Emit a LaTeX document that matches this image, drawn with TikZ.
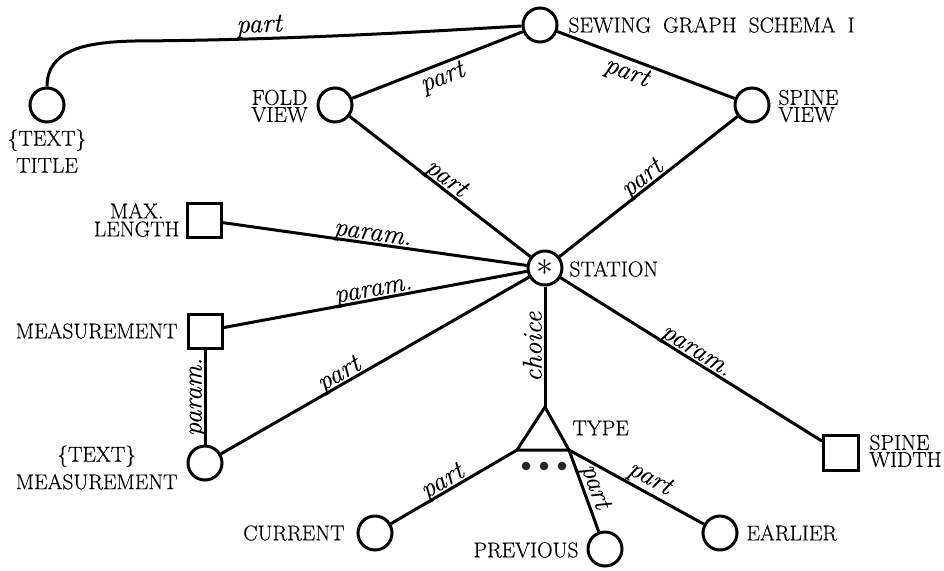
\documentclass[tikz,border=0pt]{standalone}
\usepackage{graphicx}
\usepackage{fontspec}
\newfontfamily\capfont{lmroman17-regular.otf}[FakeBold=0.35]
\newfontfamily\labfont{lmroman12-italic.otf}[FakeBold=0.25]
\begin{document}
\begin{tikzpicture}[x=1pt,y=-1pt,
  line width=3pt,
  nd/.style={circle, draw, line width=3pt, minimum size=34pt, inner sep=0pt},
  sq/.style={rectangle, draw, line width=3pt, minimum size=34pt, inner sep=0pt},
  capt/.style={font=\capfont\fontsize{21.5}{17}\selectfont, inner sep=0pt},
  lab/.style={font=\labfont\fontsize{27}{27}\selectfont, sloped, anchor=south, text depth=0pt, inner sep=2pt},
  labb/.style={font=\labfont\fontsize{27}{27}\selectfont, sloped, anchor=north, inner sep=2pt},
  dotf/.style={fill=black!85}
]
\useasboundingbox (0,0) rectangle (944,570);
\def\wsp{\hspace{12pt}}
% nodes
\node[nd] (schema) at (540,25) {};
\node[nd] (title) at (47,105) {};
\node[nd] (fold) at (335,105) {};
\node[nd] (spine) at (752,105) {};
\node[nd] (station) at (545,268) {\scalebox{3.4}{$\ast$}};
\node[sq] (maxlen) at (204,220) {};
\node[sq] (meas) at (205,331) {};
\node[nd] (textmeas) at (205,463) {};
\node[sq, minimum size=35pt] (spinew) at (841,453) {};
\node[nd] (current) at (375,533) {};
\node[nd] (previous) at (605,549) {};
\node[nd] (earlier) at (720,533) {};
% triangle
\coordinate (apex) at (545,407);
\coordinate (tl) at (517,450);
\coordinate (tr) at (569,450);
\draw[line join=miter] (apex) -- (tl) -- (tr) -- cycle;
\fill[dotf] (526,466) circle (4.3);
\fill[dotf] (544,466) circle (4.3);
\fill[dotf] (562,466) circle (4.3);
% texts
\node[capt, anchor=west] (tschema) at (567,25) {SEWING\wsp GRAPH\wsp SCHEMA\wsp I};
\node[capt, anchor=north, align=center] (ttitle) at (47,128) {\{TEXT\}\\[6pt]TITLE};
\node[capt, anchor=east, align=center] (tfold) at (309,106) {FOLD\\VIEW};
\node[capt, anchor=west, align=left] (tspine) at (777,106) {SPINE\\VIEW};
\node[capt, anchor=west] (tstation) at (568,269) {STATION};
\node[capt, anchor=east, align=center] (tmaxlen) at (181,220) {MAX.\\[1pt]LENGTH};
\node[capt, anchor=east] (tmeas) at (179,331) {MEASUREMENT};
\node[capt, anchor=north east, align=center] (ttextmeas) at (179,444) {\{TEXT\}\\[6pt]MEASUREMENT};
\node[capt, anchor=west] (ttype) at (571,428) {TYPE};
\node[capt, anchor=west, align=left] (tspinew) at (868,451) {SPINE\\WIDTH};
\node[capt, anchor=east] (tcurrent) at (346,533) {CURRENT};
\node[capt, anchor=east] (tprevious) at (580,550) {PREVIOUS};
\node[capt, anchor=west] (tearlier) at (745,533) {EARLIER};
% connectors
\coordinate (tbend) at (135,41);
\draw (title) .. controls (47,50) and (85,42) .. (tbend) .. controls (300,40) and (450,30) .. (schema) node[lab, pos=0.26, inner ysep=5pt] {part};
\draw (fold) -- node[labb, pos=0.5] {part} (schema);
\draw (schema) -- node[labb, pos=0.42] {part} (spine);
\draw (fold) -- node[lab, pos=0.5] {part} (station);
\draw (station) -- node[lab, pos=0.5] {part} (spine);
\draw (maxlen) -- node[lab, pos=0.49] {param.} (station);
\draw (meas) -- node[lab, pos=0.5] {param.} (station);
\draw (textmeas) -- node[lab, pos=0.4] {part} (station);
\draw (textmeas) -- node[lab, pos=0.5] {param.} (meas);
\draw (apex) -- node[lab, pos=0.5] {choice} (station);
\draw (station) -- node[lab, pos=0.5] {param.} (spinew);
\draw (current) -- node[lab, pos=0.45] {part} (tl);
\draw (tr) -- node[lab, pos=0.5, inner ysep=4pt] {part} (previous);
\draw (tr) -- node[lab, pos=0.55, inner ysep=6pt] {part} (earlier);
\end{tikzpicture}
\end{document}
